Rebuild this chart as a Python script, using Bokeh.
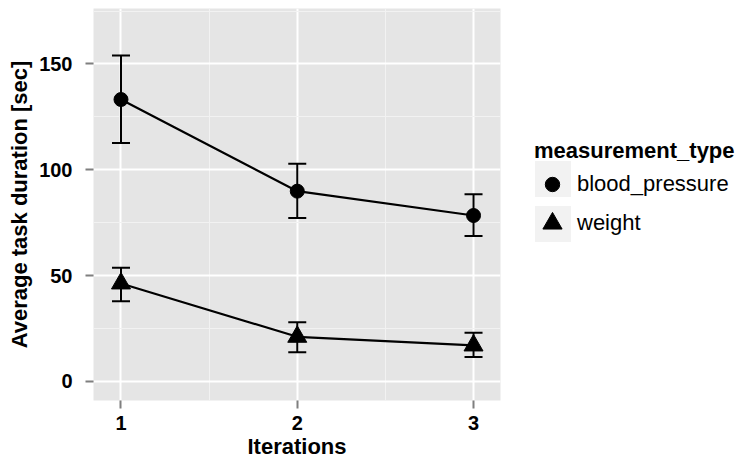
from bokeh.plotting import figure
from bokeh.layouts import row
from bokeh.models import (ColumnDataSource, Whisker, TeeHead, Legend, LegendItem,
                          FixedTicker, Range1d)
from bokeh.embed import file_html
from bokeh.resources import INLINE

# ---- data ----
iterations = [1, 2, 3]
series_names = ["blood_pressure", "weight"]
legend_title = "measurement_type"
bp_mean = [133.2, 89.9, 78.4]
bp_upper = [154.0, 102.8, 88.5]
bp_lower = [112.6, 77.2, 68.7]
wt_mean = [46.3, 21.1, 17.0]
wt_upper = [53.7, 28.0, 23.0]
wt_lower = [37.9, 13.8, 11.5]
y_ticks = [0, 50, 100, 150]
y_minor = [25, 75, 125, 175]
x_ticks = [1, 2, 3]
x_minor = [1.5, 2.5]

FONT = "Liberation Sans"

p = figure(width=510, height=461, output_backend="svg", toolbar_location=None,
           x_range=Range1d(0.844, 3.153), y_range=Range1d(-9.0, 176.2),
           min_border_left=93, min_border_right=10, min_border_top=8,
           min_border_bottom=61)

p.background_fill_color = "#E5E5E5"
p.border_fill_color = "white"
p.outline_line_color = None

# grid
p.xgrid.grid_line_color = "white"
p.ygrid.grid_line_color = "white"
p.xgrid.grid_line_width = 2
p.ygrid.grid_line_width = 2
p.xgrid.minor_grid_line_color = "#F2F2F2"
p.ygrid.minor_grid_line_color = "#F2F2F2"
p.xgrid.minor_grid_line_width = 1
p.ygrid.minor_grid_line_width = 1

p.xaxis.ticker = FixedTicker(ticks=x_ticks, minor_ticks=x_minor)
p.yaxis.ticker = FixedTicker(ticks=y_ticks, minor_ticks=y_minor)

for ax in (p.xaxis[0], p.yaxis[0]):
    ax.axis_line_color = None
    ax.major_tick_in = 0
    ax.major_tick_out = 8
    ax.major_tick_line_color = "#7F7F7F"
    ax.major_tick_line_width = 2
    ax.minor_tick_line_color = None
    ax.major_label_text_font = FONT
    ax.major_label_text_font_style = "bold"
    ax.major_label_text_font_size = "20px"
    ax.major_label_text_color = "black"
    ax.axis_label_text_font = FONT
    ax.axis_label_text_font_style = "bold"
    ax.axis_label_text_font_size = "22px"
    ax.axis_label_text_color = "black"

p.xaxis.axis_label = "Iterations"
p.yaxis.axis_label = "Average task duration [sec]"
p.xaxis.major_label_standoff = 7
p.xaxis.axis_label_standoff = 1
p.yaxis.major_label_standoff = 13
p.yaxis.axis_label_standoff = 4

# data
src_bp = ColumnDataSource(dict(x=iterations, y=bp_mean, upper=bp_upper, lower=bp_lower))
src_wt = ColumnDataSource(dict(x=iterations, y=wt_mean, upper=wt_upper, lower=wt_lower))

for src in (src_bp, src_wt):
    w = Whisker(base="x", upper="upper", lower="lower", source=src,
                line_color="black", line_width=2,
                upper_head=TeeHead(size=18, line_color="black", line_width=2),
                lower_head=TeeHead(size=18, line_color="black", line_width=2))
    p.add_layout(w)

p.line("x", "y", source=src_bp, line_color="black", line_width=2.2)
p.line("x", "y", source=src_wt, line_color="black", line_width=2.2)
p.scatter("x", "y", source=src_bp, marker="circle", size=14,
          fill_color="black", line_color="black")
p.scatter("x", "y", source=src_wt, marker="triangle", size=19,
          fill_color="black", line_color="black")

# ---- legend panel (separate figure so it is not clipped by the data frame) ----
# its ranges do not contain the data, so the proxy renderers only show in the legend
pl = figure(width=230, height=461, output_backend="svg", toolbar_location=None,
            x_range=Range1d(100, 101), y_range=Range1d(1000, 1001),
            min_border_left=0, min_border_right=0,
            min_border_top=8, min_border_bottom=61)
pl.axis.visible = False
pl.grid.visible = False
pl.outline_line_color = None
pl.background_fill_color = "white"
pl.border_fill_color = "white"

bg = pl.quad(left=iterations, right=iterations, top=bp_upper, bottom=bp_lower,
             fill_color="#F2F2F2", line_color=None)
k_bp = pl.scatter(x=iterations, y=bp_mean, marker="circle",
                  fill_color="black", line_color="black")
k_wt = pl.scatter(x=iterations, y=wt_mean, marker="triangle",
                  fill_color="black", line_color="black")


def style_legend(lg):
    lg.background_fill_alpha = 0
    lg.border_line_color = None
    lg.padding = 0
    lg.margin = 0
    lg.label_text_font = FONT
    lg.label_text_font_size = "22px"
    lg.label_text_color = "black"
    lg.title_text_font = FONT
    lg.title_text_font_size = "22px"
    lg.title_text_font_style = "bold"
    lg.title_text_color = "black"


leg_bg = Legend(items=[LegendItem(label=" ", renderers=[bg]),
                       LegendItem(label=" ", renderers=[bg])],
                location=(19.5, 154.5), glyph_width=45, glyph_height=45,
                spacing=-6)
style_legend(leg_bg)
leg_bg.label_text_alpha = 0

leg_a = Legend(items=[LegendItem(label=series_names[0], renderers=[k_bp])],
               title=legend_title, location=(24, 198),
               glyph_width=36, glyph_height=36, label_height=36,
               label_standoff=7, title_standoff=2)
style_legend(leg_a)

leg_b = Legend(items=[LegendItem(label=series_names[1], renderers=[k_wt])],
               location=(18, 153), glyph_width=48, glyph_height=48,
               label_height=48, label_standoff=1)
style_legend(leg_b)

pl.add_layout(leg_bg)
pl.add_layout(leg_a)
pl.add_layout(leg_b)

layout = row(p, pl, spacing=0)
open("out.html", "w").write(file_html(layout, INLINE))
